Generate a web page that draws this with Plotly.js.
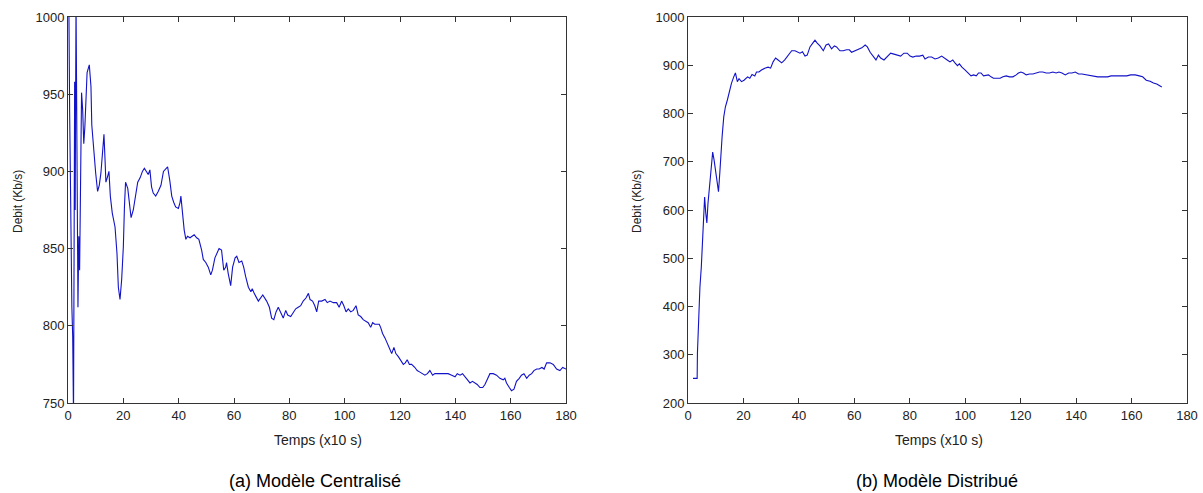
<!DOCTYPE html>
<html>
<head>
<meta charset="utf-8">
<script src="https://cdn.plot.ly/plotly-3.0.1.min.js"></script>
<style>html,body{margin:0;padding:0;background:#fff;}#chart{width:1203px;height:493px;}</style>
</head>
<body>
<div id="chart"></div>
<script>
// (a) Modèle Centralisé
const timeA = [0.3,0.6,1.4,1.7,2.0,2.4,2.6,2.9,3.6,3.9,4.2,4.6,4.9,5.3,5.7,6.1,6.5,6.9,7.7,8.3,8.6,9.2,10,10.7,11.3,11.9,12.6,13,13.4,13.7,14.2,14.8,15.3,16,17,17.7,18.2,18.8,19.4,20,20.4,20.8,21.6,22,22.8,23.6,24.5,25.2,26.1,26.9,27.6,28.5,29,29.6,30.2,30.8,31.7,32.6,33.6,34.5,35,36,36.8,37.5,38.2,38.9,39.9,40.5,40.8,41.3,42,42.6,43.2,44.1,44.7,45.6,46.5,47.3,48.3,48.9,49.8,50.7,51.6,52.2,53.1,53.8,54.6,55.5,56.3,57,57.3,57.9,58.8,59.5,60.4,61,61.8,62.8,63.5,64.2,65.2,66.1,66.6,67.3,68.8,70.4,71.8,72.8,73.6,74.4,75.2,76,76.9,77.8,78.7,79.4,80.5,81.4,82.3,83.2,84.1,85,86,86.9,87.5,88.4,89.2,89.9,90.6,91.7,92.9,93.7,94.7,95.9,97.1,98,98.9,99.7,100.5,101.3,102.2,103.1,104.1,104.9,105.8,106.7,107.7,108.5,109.4,110.1,110.9,111.8,112.5,113,113.7,114.6,115.4,116.1,117,117.8,118.5,119.4,120.2,121.2,121.9,122.6,123.4,124.2,125.4,126.2,127.2,128.2,129,129.9,130.8,131.8,132.6,133.8,135.1,136.2,137.4,138.7,139.9,140.7,141.7,142.6,143.5,144.3,145.3,146.2,147.1,147.9,148.9,149.9,150.7,151.5,152.5,153.7,154.9,156.1,157.3,157.9,158.5,159.5,160.3,161.2,162.1,163.1,163.9,164.8,165.8,166.7,167.6,168.4,169.4,170.3,171.3,172.1,173,174.2,175.4,176.6,177.8,178.8,180];
const debitA = [1010,938,812,793,740,958,875,1010,812,858,836,929,951,940,918,929,953,964,969,955,930,914,899,887,891,899,916,924,907,893,896,900,884,873,864,847,825,817,830,851,877,893,889,881,870,875,886,893,896,900,902,899,898,901,890,886,884,887,891,900,901,903,894,884,880,877,876,880,884,873,862,856,858,857,858,859,857,856,849,843,841,838,833,836,844,847,850,849,836,838,841,834,826,838,844,845,841,842,838,832,825,822,824,821,816,820,816,812,805,804,809,812,808,805,810,807,806,809,811,812,813,816,818,821,817,816,813,809,816,816,817,815,816,815,815,812,816,813,809,811,809,810,813,807,806,804,803,802,799,802,801,801,801,799,795,792,789,786,782,786,782,780,778,775,776,778,775,775,773,771,770,769,768,769,771,768,769,769,769,769,769,768,767,769,768,769,767,765,763,764,763,762,760,760,762,765,769,769,768,766,765,766,763,760,758,759,764,766,768,769,766,768,769,771,772,772,773,772,776,776,775,772,771,773,772];

// (b) Modèle Distribué
const timeB = [1.8,3.3,3.4,3.6,4,4.3,4.8,5.2,5.7,6,6.4,6.8,7.2,7.8,8.5,8.9,9.4,10,10.6,11,11.5,11.8,12.3,12.9,13.5,14.2,14.8,15.7,16.5,17.1,17.8,18.4,19.3,20.2,21.5,22.3,23.1,24.1,24.7,25.6,26.5,27.7,28.9,29.8,30.7,31.6,32.5,33.8,34.9,36.1,37.4,38.6,39.8,40.4,41.3,42.2,43,44,45,45.8,46.6,47.6,48.8,49.8,50.7,51.8,52.8,53.6,54.8,56,57.2,58.2,59,60.2,61.4,62.7,63.9,64.7,65.7,66.9,67.8,68.7,69.5,70.7,71.9,73.1,74.3,75.5,76.7,77.9,79.1,80.1,81.1,82.3,83.5,84.7,85.5,86.7,87.9,89.1,90.3,91.5,92.7,93.5,94.5,95.5,96.3,97.2,97.9,98.8,100,101.2,102.1,103,104,104.8,105.7,106.6,107.6,108.4,109.3,110.2,111.4,112.6,113.6,114.8,116,117.2,118.4,119.2,120.1,121,122,123.2,124.4,125.6,126.8,128,129.2,130.4,131.6,132.8,133.8,134.9,136.1,137.3,138.5,139.7,140.9,142.1,143.7,145.1,146.3,147.8,149,150.2,151.4,152.6,154.1,155.6,157.1,158.3,159.7,161.3,162.8,164,165.3,166.7,167.9,169.1,170.9];
const debitB = [251,251,303,345,399,440,482,531,594,627,594,573,613,648,689,720,704,677,648,638,679,711,752,793,814,828,845,863,876,884,866,872,866,869,876,873,881,878,886,886,890,894,896,894,907,915,911,905,911,919,930,930,927,925,928,919,921,938,946,952,946,940,930,942,944,934,940,938,930,930,932,932,927,930,932,936,942,938,927,917,911,921,915,911,917,925,923,921,919,925,925,919,917,919,919,921,913,917,917,913,915,919,915,911,907,911,905,899,903,896,890,884,878,880,878,884,884,878,880,880,876,873,873,873,876,878,876,876,880,884,886,884,880,882,882,884,886,886,884,884,886,884,886,884,880,884,884,886,882,882,880,878,878,876,876,876,876,878,878,878,878,878,880,880,878,876,869,867,863,861,855];

const xTicks = [0,20,40,60,80,100,120,140,160,180];
const yTicksA = [750,800,850,900,950,1000];
const yTicksB = [200,300,400,500,600,700,800,900,1000];

const xLabel = 'Temps (x10 s)';
const yLabel = 'Debit (Kb/s)';
const captionA = '(a) Modèle Centralisé';
const captionB = '(b) Modèle Distribué';

const lineColor = '#1212c8';
const tickFont = {family: 'Liberation Sans Narrow, Arial Narrow, Liberation Sans, Arial, sans-serif', size: 13, color: '#222'};

function axisBase(extra) {
  return Object.assign({
    showline: true, linecolor: '#333', linewidth: 1, mirror: 'ticks',
    ticks: 'inside', ticklen: 5, tickcolor: '#333', tickwidth: 1,
    showgrid: false, zeroline: false, tickfont: tickFont, fixedrange: true
  }, extra);
}

const traces = [
  {x: timeA, y: debitA, type: 'scatter', mode: 'lines', line: {color: lineColor, width: 1.1}, xaxis: 'x', yaxis: 'y', hoverinfo: 'skip'},
  {x: timeB, y: debitB, type: 'scatter', mode: 'lines', line: {color: lineColor, width: 1.1}, xaxis: 'x2', yaxis: 'y2', hoverinfo: 'skip'}
];

const L = 68, R = 16, T = 17, B = 90, W = 1203, H = 493;
const pw = W - L - R, ph = H - T - B;
const px = p => (p - L) / pw;
const py = p => (H - B - p) / ph;

const titleFont = {family: 'Liberation Sans, Arial, sans-serif', size: 14, color: '#222'};
const capFont = {family: 'Liberation Sans, Arial, sans-serif', size: 18, color: '#000'};

const layout = {
  width: W, height: H,
  margin: {l: L, r: R, t: T, b: B},
  paper_bgcolor: '#fff', plot_bgcolor: '#fff',
  showlegend: false,
  xaxis: axisBase({domain: [0, px(566)], range: [0, 180], tickvals: xTicks, anchor: 'y'}),
  yaxis: axisBase({domain: [0, 1], range: [750, 1000], tickvals: yTicksA, anchor: 'x'}),
  xaxis2: axisBase({domain: [px(688), 1], range: [0, 180], tickvals: xTicks, anchor: 'y2'}),
  yaxis2: axisBase({domain: [0, 1], range: [200, 1000], tickvals: yTicksB, anchor: 'x2'}),
  annotations: [
    {text: xLabel, xref: 'paper', yref: 'paper', x: px(318), y: py(440), xanchor: 'center', yanchor: 'middle', showarrow: false, font: titleFont},
    {text: xLabel, xref: 'paper', yref: 'paper', x: px(939), y: py(440), xanchor: 'center', yanchor: 'middle', showarrow: false, font: titleFont},
    {text: yLabel, xref: 'paper', yref: 'paper', x: px(18), y: py(202), xanchor: 'center', yanchor: 'middle', textangle: -90, showarrow: false, font: {family: titleFont.family, size: 12, color: '#222'}},
    {text: yLabel, xref: 'paper', yref: 'paper', x: px(637), y: py(202), xanchor: 'center', yanchor: 'middle', textangle: -90, showarrow: false, font: {family: titleFont.family, size: 12, color: '#222'}},
    {text: captionA, xref: 'paper', yref: 'paper', x: px(315), y: py(481), xanchor: 'center', yanchor: 'middle', showarrow: false, font: capFont},
    {text: captionB, xref: 'paper', yref: 'paper', x: px(937), y: py(481), xanchor: 'center', yanchor: 'middle', showarrow: false, font: capFont}
  ]
};

Plotly.newPlot('chart', traces, layout, {staticPlot: true, displayModeBar: false});
</script>
</body>
</html>
